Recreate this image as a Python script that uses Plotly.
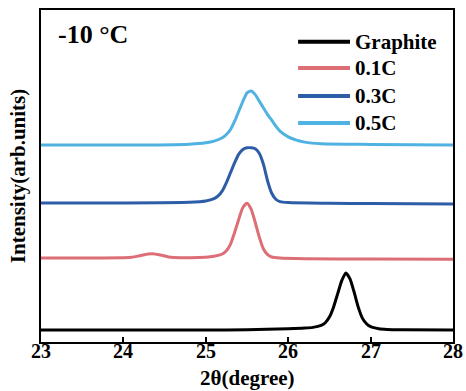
import plotly.graph_objects as go

# XRD patterns (2θ in degrees, intensity in arbitrary units, already stacked)
graphite_x = [23.0, 24.0, 25.0, 25.5, 26.0, 26.2, 26.3, 26.4, 26.45, 26.5, 26.55, 26.6, 26.65,
              26.7, 26.75, 26.8, 26.85, 26.9, 26.95, 27.0, 27.1, 27.2, 27.4, 28.0]
graphite_y = [3.6, 3.6, 3.6, 3.7, 4.0, 4.2, 4.4, 5.0, 5.8, 7.5, 10.5, 14.5, 18.5,
              20.8, 19.0, 15.0, 10.5, 7.2, 5.5, 4.6, 4.0, 3.8, 3.7, 3.6]

c01_x = [23.0, 23.5, 24.0, 24.1, 24.2, 24.3, 24.35, 24.45, 24.55, 24.7, 25.0, 25.1, 25.2, 25.25,
         25.3, 25.35, 25.4, 25.45, 25.5, 25.55, 25.6, 25.65, 25.7, 25.75, 25.8, 25.9, 26.2,
         27.0, 28.0]
c01_y = [25.3, 25.3, 25.4, 25.5, 26.0, 26.5, 26.6, 26.2, 25.6, 25.4, 25.5, 25.8, 26.5, 27.5,
         29.5, 33.0, 37.0, 40.5, 41.8, 40.0, 36.0, 31.5, 28.0, 26.3, 25.6, 25.3, 25.1,
         25.0, 24.9]

c03_x = [23.0, 24.0, 24.8, 25.0, 25.1, 25.15, 25.2, 25.25, 25.3, 25.35, 25.4, 25.45, 25.5,
         25.55, 25.6, 25.65, 25.7, 25.75, 25.8, 25.85, 25.9, 26.0, 26.5, 27.0, 28.0]
c03_y = [41.9, 41.9, 42.1, 42.5, 43.2, 44.0, 45.5, 48.0, 51.0, 54.0, 56.6, 58.0, 58.5,
         58.5, 58.2, 56.8, 53.5, 48.5, 44.8, 43.0, 42.3, 42.0, 41.8, 41.7, 41.6]

c05_x = [23.0, 24.0, 24.8, 25.0, 25.1, 25.2, 25.25, 25.3, 25.35, 25.4, 25.45, 25.5, 25.55,
         25.6, 25.65, 25.7, 25.75, 25.8, 25.85, 25.9, 26.0, 26.1, 26.2, 26.4, 27.0, 28.0]
c05_y = [59.3, 59.3, 59.6, 60.0, 60.5, 61.5, 62.5, 64.0, 66.5, 69.5, 72.5, 75.0, 75.6,
         74.5, 72.5, 70.5, 68.5, 66.8, 65.0, 63.5, 61.8, 60.8, 60.2, 59.7, 59.5, 59.3]

labels = ["Graphite", "0.1C", "0.3C", "0.5C"]
colors = ["#000000", "#DD6E76", "#2E5DA8", "#4FB2E2"]
series = [(graphite_x, graphite_y), (c01_x, c01_y), (c03_x, c03_y), (c05_x, c05_y)]

x_ticks = [23, 24, 25, 26, 27, 28]

FONT = "Liberation Serif"
BOLD = dict(family=FONT, color="black", weight="bold")

fig = go.Figure()
for (xs, ys), name, col in zip(series, labels, colors):
    fig.add_trace(go.Scatter(x=xs, y=ys, mode="lines", name=name,
                             line=dict(color=col, width=3, shape="spline", smoothing=0.6),
                             showlegend=False))

# legend drawn with long line samples
leg_y = [0.904, 0.825, 0.741, 0.660]
for name, col, yy in zip(labels, colors, leg_y):
    fig.add_shape(type="line", xref="paper", yref="paper", x0=0.624, x1=0.75, y0=yy, y1=yy,
                  line=dict(color=col, width=4))
    fig.add_annotation(xref="paper", yref="paper", x=0.757, y=yy, text=name,
                       showarrow=False, xanchor="left", yanchor="middle",
                       font=dict(BOLD, size=21))

fig.add_annotation(xref="paper", yref="paper", x=0.037, y=0.925, text="-10 °C",
                   showarrow=False, xanchor="left", yanchor="middle",
                   font=dict(BOLD, size=26))

# x tick labels set close under the frame
for t in x_ticks:
    fig.add_annotation(xref="x", yref="paper", x=t, y=-0.028, text=str(t),
                       showarrow=False, xanchor="center", yanchor="middle",
                       font=dict(BOLD, size=20))
fig.add_annotation(xref="paper", yref="paper", x=0.5, y=-0.108, text="2θ(degree)",
                   showarrow=False, xanchor="center", yanchor="middle",
                   font=dict(BOLD, size=21))

fig.update_layout(
    width=466, height=391,
    margin=dict(l=41, r=13, t=10, b=49),
    paper_bgcolor="white", plot_bgcolor="white",
    font=dict(family=FONT, color="black"),
)
fig.update_xaxes(range=[23, 28], tickvals=x_ticks, showticklabels=False,
                 ticks="inside", ticklen=5, tickwidth=1.5, tickcolor="black",
                 showline=True, linewidth=2, linecolor="black", mirror=True,
                 showgrid=False, zeroline=False, automargin=False)
fig.update_yaxes(range=[0, 100], showticklabels=False, ticks="",
                 showline=True, linewidth=2, linecolor="black", mirror=True,
                 showgrid=False, zeroline=False, automargin=False,
                 title=dict(text="Intensity(arb.units)", standoff=8, font=dict(BOLD, size=21)))

fig.write_html("out.html")
